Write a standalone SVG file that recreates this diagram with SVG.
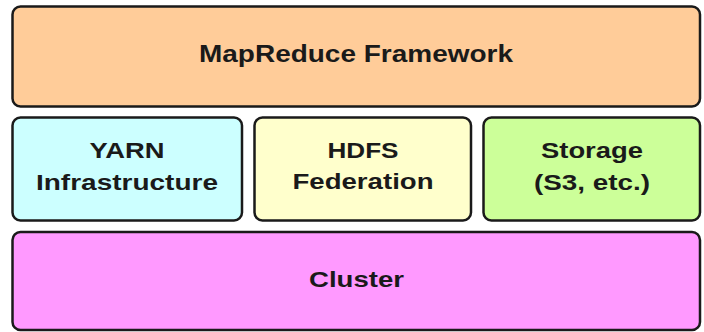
<svg xmlns="http://www.w3.org/2000/svg" width="704" height="332" viewBox="0 0 704 332">
<style>
.box{stroke:#1a1a1a;stroke-width:2.5}
.t{font-family:"Liberation Sans",Arial,sans-serif;font-weight:bold;font-size:22px;fill:#1a1a1a;text-anchor:middle}
</style>
<rect width="704" height="332" fill="#ffffff"/>
<g id="mapreduce">
<rect class="box" x="12.5" y="6.5" width="687.5" height="100" rx="8" fill="#FFCC99"/>
<text class="t" x="356" y="62" style="font-size:23px" textLength="314" lengthAdjust="spacingAndGlyphs">MapReduce Framework</text>
</g>
<g id="yarn">
<rect class="box" x="12.5" y="117.5" width="229.5" height="103" rx="8" fill="#CCFFFF"/>
<text class="t" x="127" y="158" textLength="75" lengthAdjust="spacingAndGlyphs">YARN</text>
<text class="t" x="127" y="190" textLength="182" lengthAdjust="spacingAndGlyphs">Infrastructure</text>
</g>
<g id="hdfs">
<rect class="box" x="254.5" y="117.5" width="216.5" height="103" rx="8" fill="#FFFFCC"/>
<text class="t" x="363" y="158" textLength="71" lengthAdjust="spacingAndGlyphs">HDFS</text>
<text class="t" x="363" y="189" textLength="141" lengthAdjust="spacingAndGlyphs">Federation</text>
</g>
<g id="storage">
<rect class="box" x="483.5" y="117.5" width="216.5" height="103" rx="8" fill="#CCFF99"/>
<text class="t" x="592" y="158" textLength="102" lengthAdjust="spacingAndGlyphs">Storage</text>
<text class="t" x="592" y="190" textLength="116" lengthAdjust="spacingAndGlyphs">(S3, etc.)</text>
</g>
<g id="cluster">
<rect class="box" x="12.5" y="232" width="687.5" height="98" rx="8" fill="#FF99FF"/>
<text class="t" x="356.5" y="287" textLength="95" lengthAdjust="spacingAndGlyphs">Cluster</text>
</g>
<g id="connectors"></g>
</svg>
